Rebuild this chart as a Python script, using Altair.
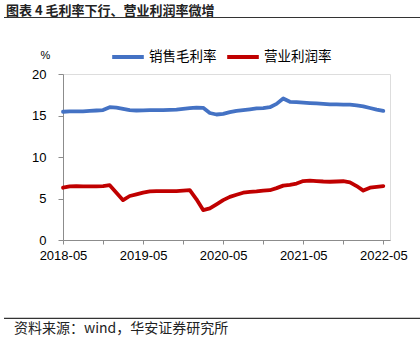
import json
import altair as alt
import pandas as pd

# ---- data (monthly, 2018-05 .. 2022-05) ----
series_names = ["销售毛利率", "营业利润率"]
series_colors = ["#4472C4", "#C00000"]
tick_labels = ["2018-05", "2019-05", "2020-05", "2021-05", "2022-05"]
months = [f"{2018 + (4 + i) // 12}-{(4 + i) % 12 + 1:02d}" for i in range(49)]

gross_margin = [
    15.45, 15.50, 15.50, 15.50, 15.55, 15.60, 15.65, 16.00, 15.95, 15.80,
    15.65, 15.60, 15.62, 15.65, 15.65, 15.65, 15.68, 15.72, 15.80, 15.88,
    15.95, 15.92, 15.30, 15.12, 15.20, 15.40, 15.55, 15.65, 15.75, 15.85,
    15.90, 16.00, 16.40, 17.05, 16.65, 16.60, 16.55, 16.50, 16.45, 16.40,
    16.35, 16.35, 16.32, 16.30, 16.22, 16.10, 15.90, 15.70, 15.55,
]
op_margin = [
    6.30, 6.45, 6.50, 6.45, 6.45, 6.45, 6.50, 6.60, 5.70, 4.80,
    5.30, 5.50, 5.70, 5.85, 5.90, 5.90, 5.90, 5.90, 5.95, 6.00,
    4.90, 3.60, 3.80, 4.30, 4.80, 5.20, 5.45, 5.70, 5.80, 5.85,
    5.95, 6.00, 6.25, 6.55, 6.65, 6.80, 7.10, 7.15, 7.10, 7.05,
    7.02, 7.05, 7.08, 6.95, 6.50, 5.95, 6.30, 6.40, 6.50,
]

rows = []
for name, vals in zip(series_names, [gross_margin, op_margin]):
    for i, (m, v) in enumerate(zip(months, vals)):
        rows.append({"idx": i, "month": m, "series": name, "value": v})
df = pd.DataFrame(rows)

CJK = "Noto Sans CJK SC"
LAT = "Liberation Sans"
AXC = "#8c8c8c"

label_expr = (
    "datum.value % 12 == 0 ? " + json.dumps(tick_labels) + "[datum.value / 12] : ''"
)

lines = alt.Chart(df).mark_line(
    strokeWidth=3.8, strokeJoin="round", strokeCap="round"
).encode(
    x=alt.X(
        "idx:Q",
        scale=alt.Scale(domain=[0, 49], nice=False, zero=False),
        axis=alt.Axis(
            title=None, grid=False, values=list(range(0, 49, 6)),
            labelExpr=label_expr, labelOverlap=False, labelFlush=False,
            labelFont=LAT, labelFontSize=13, labelColor="#000",
            labelPadding=5, tickSize=4, tickColor=AXC, domainColor=AXC,
        ),
    ),
    y=alt.Y(
        "value:Q",
        scale=alt.Scale(domain=[0, 20], nice=False),
        axis=alt.Axis(
            title=None, grid=False, values=[0, 5, 10, 15, 20],
            labelFont=LAT, labelFontSize=13, labelColor="#000",
            labelPadding=12, tickSize=5, tickColor=AXC, domainColor=AXC,
        ),
    ),
    color=alt.Color(
        "series:N",
        scale=alt.Scale(domain=series_names, range=series_colors),
        legend=alt.Legend(
            title=None, orient="none", legendX=47, legendY=-35,
            direction="horizontal", symbolType="stroke", symbolSize=1000,
            symbolStrokeWidth=4, labelFont=CJK, labelFontSize=13.5,
            labelColor="#000", labelOffset=3, columnPadding=2, padding=0,
        ),
    ),
)

title = alt.Chart(pd.DataFrame({"t": ["图表 4  毛利率下行、营业利润率微增"]})).mark_text(
    align="left", baseline="alphabetic", font=CJK, fontSize=13,
    fontWeight="bold", color="#222"
).encode(text="t:N", x=alt.value(-57), y=alt.value(-59))

footer = alt.Chart(pd.DataFrame({"t": ["资料来源：wind，华安证券研究所"]})).mark_text(
    align="left", baseline="middle", font=CJK, fontSize=14, color="#222"
).encode(text="t:N", x=alt.value(-49), y=alt.value(255))

pct = alt.Chart(pd.DataFrame({"t": ["%"]})).mark_text(
    align="center", baseline="middle", font=LAT, fontSize=11, color="#000"
).encode(text="t:N", x=alt.value(-17.5), y=alt.value(-18.5))

top_rule = alt.Chart(pd.DataFrame({"a": [0]})).mark_rule(
    color="#333", strokeWidth=1.2
).encode(x=alt.value(-59), x2=alt.value(357), y=alt.value(-56.5))

bottom_rule = alt.Chart(pd.DataFrame({"a": [0]})).mark_rule(
    color="#333", strokeWidth=1.2
).encode(x=alt.value(-59), x2=alt.value(357), y=alt.value(244.3))

chart = alt.layer(lines, title, footer, pct, top_rule, bottom_rule).properties(
    width=327, height=166,
    autosize=alt.AutoSizeParams(type="none"),
    padding={"left": 63, "top": 74, "right": 30, "bottom": 110},
).configure_view(stroke=None).configure(background="white")

chart.save("out.html", embed_options={"renderer": "svg", "actions": False})
